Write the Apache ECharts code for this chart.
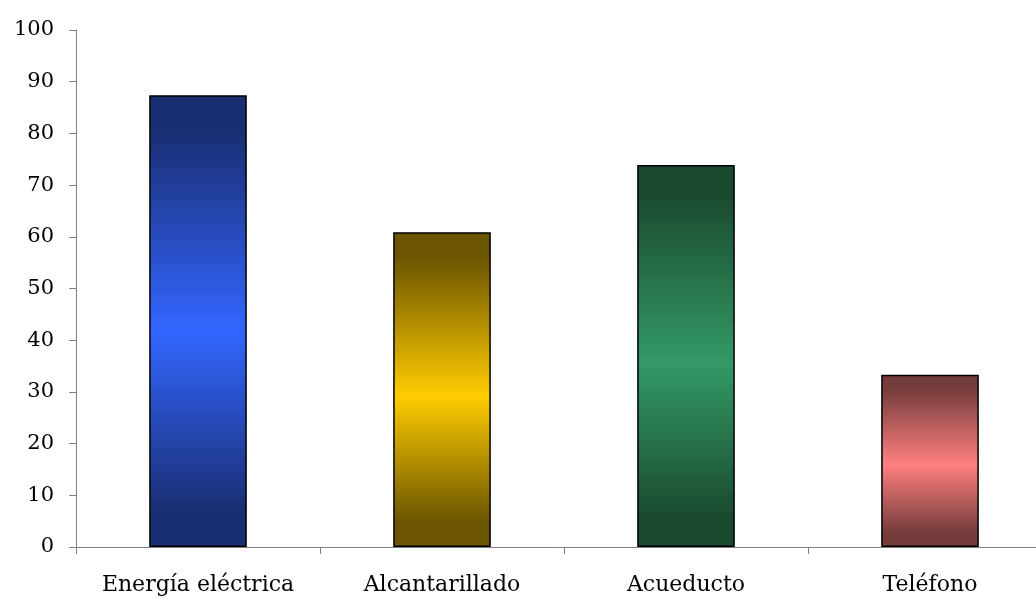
<!DOCTYPE html>
<html><head><meta charset="utf-8">
<script src="https://cdn.jsdelivr.net/npm/echarts@6/dist/echarts.min.js"></script>
<style>html,body{margin:0;padding:0;background:#fff}#c{width:1036px;height:600px}</style>
</head><body><div id="c"></div>
<script>
const categories = ['Energía eléctrica', 'Alcantarillado', 'Acueducto', 'Teléfono'];
const values = [87.4, 60.9, 73.9, 33.3];
const yTicks = [0, 10, 20, 30, 40, 50, 60, 70, 80, 90, 100];
const edgeColors = ['#1a2e73', '#6b5500', '#1a4a30', '#753c3c'];
const midColors = ['#3366ff', '#ffcc00', '#339966', '#ff8080'];

function grad(i) {
  return new echarts.graphic.LinearGradient(0, 0, 0, 1, [
    {offset: 0, color: edgeColors[i]},
    {offset: 0.08, color: edgeColors[i]},
    {offset: 0.52, color: midColors[i]},
    {offset: 0.92, color: edgeColors[i]},
    {offset: 1, color: edgeColors[i]}
  ]);
}

const chart = echarts.init(document.getElementById('c'));
chart.setOption({
  animation: false,
  grid: {left: 76, width: 976, top: 30, height: 517, containLabel: false, outerBoundsMode: 'none'},
  xAxis: {
    type: 'category', data: categories, boundaryGap: true,
    axisLine: {lineStyle: {color: '#808080', width: 1}},
    axisTick: {show: true, length: 7, lineStyle: {color: '#808080'}, alignWithLabel: false},
    axisLabel: {color: '#000', fontFamily: 'DejaVu Serif', fontSize: 22, margin: 27, interval: 0}
  },
  yAxis: {
    type: 'value', min: yTicks[0], max: yTicks[yTicks.length - 1], interval: 10,
    axisLine: {show: true, lineStyle: {color: '#808080', width: 1}},
    axisTick: {show: true, length: 7, lineStyle: {color: '#808080'}},
    splitLine: {show: false},
    axisLabel: {color: '#000', fontFamily: 'DejaVu Serif', fontSize: 21, margin: 22}
  },
  series: [{
    type: 'bar',
    barWidth: '40%',
    data: values.map((v, i) => ({value: v, itemStyle: {color: grad(i)}})),
    itemStyle: {borderColor: '#000', borderWidth: 1.5}
  }]
});
</script></body></html>
